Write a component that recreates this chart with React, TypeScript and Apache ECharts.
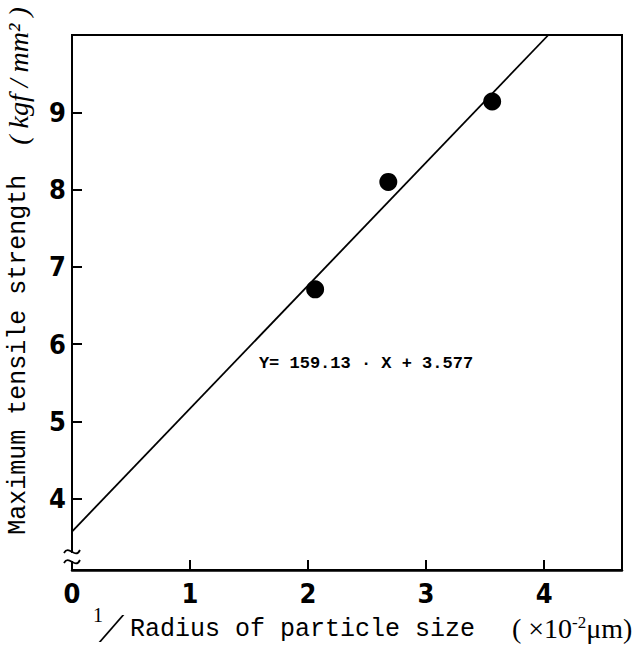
import React, { useEffect, useRef } from "react";
import * as echarts from "echarts";

const xTickValues = [0, 1, 2, 3, 4];
const yTickValues = [4, 5, 6, 7, 8, 9];
const pointsX = [2.06, 2.68, 3.56];
const pointsY = [6.71, 8.1, 9.14];
const fitX = [0, 4.036];
const fitY = [3.577, 10];
const equationText = "Y= 159.13 · X + 3.577";
const yTitleMain = "Maximum tensile strength  ";
const yTitleUnit = "( kgf / mm² )";
const xTitleMain = "Radius of particle size";

const tickFont = "'Liberation Sans Narrow', 'DejaVu Sans Condensed', 'Liberation Sans', sans-serif";
const monoFont = "'Liberation Mono', 'DejaVu Sans Mono', monospace";
const serifFont = "'Liberation Serif', 'DejaVu Serif', serif";

export default function App() {
  const ref = useRef<HTMLDivElement>(null);
  useEffect(() => {
    if (!ref.current) return;
    const chart = echarts.init(ref.current, null, { renderer: "svg" });
    const scatterData = pointsX.map((x, i) => [x, pointsY[i]]);
    const fitData = fitX.map((x, i) => [x, fitY[i]]);
    chart.setOption({
      animation: false,
      backgroundColor: "#fff",
      grid: {
        left: 72,
        right: 20,
        top: 35,
        bottom: 80,
        show: true,
        borderColor: "#000",
        borderWidth: 2,
        backgroundColor: "transparent",
      },
      xAxis: {
        type: "value",
        min: 0,
        max: 4.66,
        splitLine: { show: false },
        axisLine: { show: true, lineStyle: { color: "#000", width: 2.5 } },
        axisTick: {
          show: true,
          inside: true,
          length: 10,
          customValues: xTickValues,
          lineStyle: { color: "#000", width: 2 },
        },
        axisLabel: {
          customValues: xTickValues,
          margin: 10,
          color: "#000",
          fontSize: 27,
          fontWeight: "bold",
          fontFamily: tickFont,
        },
      },
      yAxis: {
        type: "value",
        min: 3.08,
        max: 10,
        splitLine: { show: false },
        axisLine: { show: true, lineStyle: { color: "#000", width: 2 } },
        axisTick: {
          show: true,
          inside: true,
          length: 10,
          customValues: yTickValues,
          lineStyle: { color: "#000", width: 2 },
        },
        axisLabel: {
          customValues: yTickValues,
          margin: 6,
          color: "#000",
          fontSize: 27,
          fontWeight: "bold",
          fontFamily: tickFont,
        },
      },
      series: [
        {
          type: "line",
          data: fitData,
          showSymbol: false,
          symbol: "none",
          lineStyle: { color: "#000", width: 1.8 },
          z: 2,
        },
        {
          type: "scatter",
          data: scatterData,
          symbol: "circle",
          symbolSize: 18,
          itemStyle: { color: "#000", opacity: 1 },
          z: 3,
        },
      ],
      graphic: [
        {
          type: "text",
          x: 366,
          y: 363,
          style: {
            text: equationText,
            fill: "#000",
            font: `bold 17px ${monoFont}`,
            align: "center",
            verticalAlign: "middle",
          },
        },
        // axis break
        {
          type: "rect",
          shape: { x: 66, y: 553, width: 14, height: 8 },
          style: { fill: "#fff" },
          z: 100,
        },
        {
          type: "bezierCurve",
          shape: { x1: 64, y1: 553, cpx1: 69, cpy1: 544, cpx2: 75, cpy2: 560, x2: 80, y2: 550 },
          style: { stroke: "#000", lineWidth: 1.8, fill: "none" },
          z: 101,
        },
        {
          type: "bezierCurve",
          shape: { x1: 64, y1: 563, cpx1: 69, cpy1: 554, cpx2: 75, cpy2: 570, x2: 80, y2: 560 },
          style: { stroke: "#000", lineWidth: 1.8, fill: "none" },
          z: 101,
        },
        // y title
        {
          type: "text",
          x: 18,
          y: 271,
          rotation: Math.PI / 2,
          style: {
            text: `{a|${yTitleMain}}{b|${yTitleUnit}}`,
            align: "center",
            verticalAlign: "middle",
            rich: {
              a: { font: `25px ${monoFont}`, fill: "#000" },
              b: { font: `italic 28px ${serifFont}`, fill: "#000" },
            },
          },
        },
        // x title
        {
          type: "text",
          x: 93,
          y: 605,
          style: {
            text: "1",
            font: `20px ${serifFont}`,
            fill: "#000",
            align: "left",
            verticalAlign: "top",
          },
        },
        {
          type: "text",
          x: 112,
          y: 628,
          scaleX: 2.2,
          style: {
            text: "/",
            font: `100 36px Roboto, 'Liberation Sans', sans-serif`,
            fill: "#000",
            align: "center",
            verticalAlign: "middle",
          },
        },
        {
          type: "text",
          x: 130,
          y: 629,
          style: {
            text: xTitleMain,
            font: `25px ${monoFont}`,
            fill: "#000",
            align: "left",
            verticalAlign: "middle",
          },
        },
        {
          type: "text",
          x: 512,
          y: 642,
          style: {
            text: "{a|( ×10}{s|-2}{a|μm)}",
            align: "left",
            verticalAlign: "bottom",
            rich: {
              a: { font: `28px ${serifFont}`, fill: "#000", verticalAlign: "bottom" },
              s: { font: `17px ${serifFont}`, fill: "#000", verticalAlign: "top" },
            },
          },
        },
      ],
    });
    return () => chart.dispose();
  }, []);
  return (
    <div
      ref={ref}
      style={{ position: "fixed", left: 0, top: 0, width: 642, height: 650 }}
    />
  );
}
